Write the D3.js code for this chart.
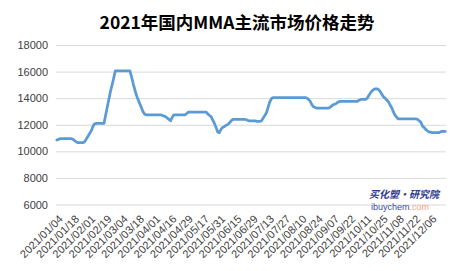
<!DOCTYPE html>
<html>
<head>
<meta charset="utf-8">
<script src="https://cdn.jsdelivr.net/npm/d3@7"></script>
<style>
  body { margin: 0; background: #fff; }
  svg { display: block; }
  .grid line { stroke: #d9d9d9; stroke-width: 1; }
  .grid text { font-family: "Liberation Sans", Arial, sans-serif; font-size: 11px; fill: #404040; }
  .xlab text { font-family: "Liberation Sans", Arial, sans-serif; font-size: 11px; fill: #404040; }
</style>
</head>
<body>
<div id="chart"></div>
<script>
// daily MMA price, yuan/ton (trading days)
const prices = [
  10850, 10900, 10950, 10950, 10950, 10950, 10950, 10950, 10950, 10950,
  10900, 10800, 10700, 10650, 10650, 10650, 10650, 10700, 10900, 11100,
  11300, 11500, 11800, 12050, 12100, 12100, 12100, 12100, 12100, 12100,
  12700, 13300, 13900, 14500, 15000, 15500, 16050, 16050, 16050, 16050,
  16050, 16050, 16050, 16050, 16050, 16050, 15600, 15100, 14650, 14200,
  13900, 13600, 13300, 13000, 12800, 12750, 12750, 12750, 12750, 12750,
  12750, 12750, 12750, 12750, 12750, 12700, 12650, 12600, 12500, 12400,
  12300, 12550, 12750, 12750, 12750, 12750, 12750, 12750, 12750, 12750,
  12850, 12950, 12950, 12950, 12950, 12950, 12950, 12950, 12950, 12950,
  12950, 12950, 12950, 12800, 12700, 12600, 12350, 12100, 11800, 11450,
  11400, 11650, 11800, 11850, 11950, 12000, 12100, 12250, 12380, 12400,
  12400, 12400, 12400, 12400, 12400, 12400, 12400, 12350, 12300, 12300,
  12300, 12300, 12300, 12250, 12250, 12250, 12300, 12500, 12700, 12900,
  13300, 13700, 13950, 14050, 14050, 14050, 14050, 14050, 14050, 14050,
  14050, 14050, 14050, 14050, 14050, 14050, 14050, 14050, 14050, 14050,
  14050, 14050, 14050, 14050, 14000, 13900, 13750, 13500, 13350, 13300,
  13250, 13250, 13250, 13250, 13250, 13250, 13250, 13250, 13300, 13400,
  13500, 13550, 13600, 13700, 13750, 13750, 13750, 13750, 13750, 13750,
  13750, 13750, 13750, 13750, 13750, 13750, 13850, 13900, 13900, 13900,
  13900, 14000, 14200, 14400, 14550, 14650, 14700, 14700, 14650, 14500,
  14300, 14100, 14000, 13850, 13750, 13500, 13300, 13000, 12750, 12600,
  12450, 12450, 12450, 12450, 12450, 12450, 12450, 12450, 12450, 12450,
  12450, 12450, 12400, 12300, 12200, 11900, 11800, 11650, 11550, 11450,
  11450, 11400, 11400, 11400, 11400, 11400, 11450, 11500, 11500, 11500
];

// a date label every 10 trading days
const tickLabels = [
  '2021/01/04', '2021/01/18', '2021/02/01', '2021/02/19', '2021/03/04', '2021/03/18',
  '2021/04/01', '2021/04/16', '2021/04/29', '2021/05/17', '2021/05/31', '2021/06/15',
  '2021/06/29', '2021/07/13', '2021/07/27', '2021/08/10', '2021/08/24', '2021/09/07',
  '2021/09/22', '2021/10/11', '2021/10/25', '2021/11/08', '2021/11/22', '2021/12/06'
];
const tickEvery = 10;
const yTicks = [6000, 8000, 10000, 12000, 14000, 16000, 18000];

const width = 454;
const height = 271;
const plot = { left: 56, right: 446, top: 45, bottom: 204.5 };

const svg = d3.select('#chart')
  .append('svg')
  .attr('width', width)
  .attr('height', height);

// category axis, points sit in the middle of each band
const xScale = d3.scaleBand()
  .domain(d3.range(prices.length))
  .range([plot.left, plot.right]);
const xMid = (i) => xScale(i) + xScale.bandwidth() / 2;

const yScale = d3.scaleLinear()
  .domain([6000, 18000])
  .range([plot.bottom, plot.top]);

// title
svg.append('text')
  .attr('x', 237)
  .attr('y', 29)
  .attr('text-anchor', 'middle')
  .style('font-family', '"Noto Sans CJK SC", sans-serif')
  .style('font-weight', 'bold')
  .style('font-size', '17.5px')
  .style('fill', '#000')
  .text('2021年国内MMA主流市场价格走势');

// gridlines + y labels
const grid = svg.append('g')
  .attr('class', 'grid')
  .attr('transform', `translate(${plot.left},0)`)
  .call(d3.axisLeft(yScale)
    .tickValues(yTicks)
    .tickSize(-(plot.right - plot.left))
    .tickPadding(8)
    .tickFormat(d3.format('d')));
grid.select('.domain').remove();

// rotated date labels
svg.append('g')
  .attr('class', 'xlab')
  .selectAll('text')
  .data(tickLabels)
  .join('text')
  .attr('text-anchor', 'end')
  .attr('dy', '0.35em')
  .attr('transform', (d, k) => `translate(${xMid(k * tickEvery) + 4},217) rotate(-45)`)
  .text((d) => d);

// watermark
const wm = svg.append('g');
wm.append('text')
  .attr('x', 404)
  .attr('y', 198)
  .attr('text-anchor', 'middle')
  .style('font-family', '"Noto Sans CJK SC", sans-serif')
  .style('font-weight', 'bold')
  .style('font-style', 'italic')
  .style('font-size', '10px')
  .style('fill', '#2e3b8f')
  .text('买化塑·研究院');
const url = wm.append('text')
  .attr('x', 400)
  .attr('y', 210)
  .attr('text-anchor', 'middle')
  .style('font-family', '"Liberation Sans", Arial, sans-serif')
  .style('font-size', '9px');
url.append('tspan').style('fill', '#3a4da0').text('ibuychem');
url.append('tspan').style('fill', '#f2a37e').text('.com');

// price line
const line = d3.line()
  .x((d, i) => xMid(i))
  .y((d) => yScale(d));

svg.append('path')
  .datum(prices)
  .attr('fill', 'none')
  .attr('stroke', '#5b9bd5')
  .attr('stroke-width', 2.75)
  .attr('stroke-linejoin', 'round')
  .attr('stroke-linecap', 'round')
  .attr('d', line);
</script>
</body>
</html>
